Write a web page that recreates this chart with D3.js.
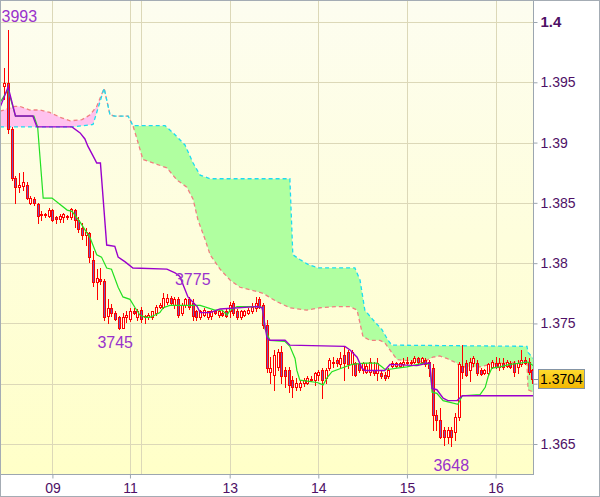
<!DOCTYPE html>
<html><head><meta charset="utf-8">
<script src="https://cdn.jsdelivr.net/npm/d3@7"></script>
<style>html,body{margin:0;padding:0;background:#fff;}svg{display:block;font-family:"Liberation Sans",Arial,sans-serif;}</style>
</head><body><svg id="c" width="600" height="497"></svg>
<script>
// ---- hourly candles (bar index 0..143) ----
const openP=[1.3947,1.3949,1.3911,1.3871,1.3863,1.3864,1.3865,1.3850,1.3853,1.3849,1.3841,1.3840,1.3839,1.3844,1.3838,1.3837,1.3838,1.3839,1.3838,1.3844,1.3836,1.3829,1.3823,1.3825,1.3803,1.3784,1.3787,1.3785,1.3756,1.3763,1.3759,1.3755,1.3746,1.3755,1.3754,1.3760,1.3755,1.3761,1.3755,1.3755,1.3755,1.3759,1.3764,1.3764,1.3768,1.3771,1.3765,1.3770,1.3759,1.3765,1.3770,1.3767,1.3760,1.3755,1.3757,1.3755,1.3756,1.3760,1.3757,1.3759,1.3760,1.3760,1.3767,1.3760,1.3755,1.3757,1.3759,1.3760,1.3763,1.3770,1.3765,1.3749,1.3710,1.3707,1.3714,1.3726,1.3711,1.3711,1.3703,1.3697,1.3697,1.3701,1.3701,1.3704,1.3703,1.3707,1.3711,1.3705,1.3713,1.3718,1.3720,1.3716,1.3724,1.3726,1.3716,1.3717,1.3716,1.3711,1.3710,1.3710,1.3711,1.3709,1.3709,1.3707,1.3706,1.3715,1.3715,1.3715,1.3716,1.3718,1.3718,1.3718,1.3721,1.3718,1.3720,1.3718,1.3713,1.3674,1.3670,1.3662,1.3656,1.3662,1.3660,1.3672,1.3715,1.3717,1.3711,1.3717,1.3717,1.3711,1.3709,1.3709,1.3714,1.3717,1.3714,1.3717,1.3715,1.3717,1.3717,1.3714,1.3716,1.3720,1.3718,1.3711];
const highP=[1.3962,1.3993,1.3913,1.3872,1.3875,1.3876,1.3867,1.3856,1.3855,1.3850,1.3843,1.3842,1.3846,1.3845,1.3839,1.3841,1.3842,1.3840,1.3846,1.3845,1.3838,1.3833,1.3829,1.3826,1.3810,1.3795,1.3796,1.3787,1.3770,1.3766,1.3760,1.3756,1.3759,1.3760,1.3763,1.3763,1.3762,1.3764,1.3757,1.3759,1.3760,1.3765,1.3767,1.3775,1.3774,1.3773,1.3772,1.3772,1.3767,1.3771,1.3772,1.3770,1.3761,1.3761,1.3763,1.3760,1.3761,1.3761,1.3761,1.3761,1.3762,1.3768,1.3769,1.3762,1.3761,1.3761,1.3763,1.3767,1.3772,1.3772,1.3767,1.3753,1.3722,1.3728,1.3729,1.3731,1.3714,1.3714,1.3706,1.3705,1.3703,1.3705,1.3706,1.3706,1.3710,1.3711,1.3713,1.3713,1.3721,1.3722,1.3721,1.3726,1.3731,1.3728,1.3728,1.3718,1.3718,1.3718,1.3717,1.3721,1.3718,1.3721,1.3711,1.3710,1.3713,1.3719,1.3718,1.3718,1.3721,1.3722,1.3720,1.3723,1.3722,1.3722,1.3721,1.3720,1.3716,1.3678,1.3680,1.3664,1.3664,1.3664,1.3676,1.3718,1.3732,1.3720,1.3721,1.3723,1.3720,1.3713,1.3712,1.3717,1.3720,1.3722,1.3721,1.3721,1.3720,1.3719,1.3719,1.3720,1.3728,1.3722,1.3721,1.3712];
const lowP=[1.3936,1.3908,1.3869,1.3850,1.3859,1.3861,1.3853,1.3849,1.3848,1.3833,1.3836,1.3838,1.3838,1.3835,1.3833,1.3834,1.3834,1.3837,1.3837,1.3830,1.3826,1.3820,1.3815,1.3801,1.3781,1.3770,1.3783,1.3753,1.3750,1.3756,1.3753,1.3745,1.3746,1.3751,1.3752,1.3758,1.3753,1.3751,1.3750,1.3754,1.3754,1.3757,1.3763,1.3763,1.3766,1.3765,1.3763,1.3755,1.3757,1.3764,1.3762,1.3753,1.3753,1.3754,1.3756,1.3754,1.3754,1.3758,1.3755,1.3756,1.3755,1.3755,1.3757,1.3754,1.3754,1.3756,1.3758,1.3759,1.3760,1.3763,1.3746,1.3710,1.3701,1.3695,1.3711,1.3701,1.3697,1.3693,1.3689,1.3695,1.3695,1.3698,1.3700,1.3702,1.3699,1.3703,1.3688,1.3701,1.3711,1.3714,1.3715,1.3714,1.3703,1.3713,1.3707,1.3706,1.3710,1.3709,1.3709,1.3707,1.3707,1.3703,1.3705,1.3703,1.3705,1.3714,1.3714,1.3714,1.3715,1.3716,1.3716,1.3717,1.3716,1.3717,1.3715,1.3706,1.3662,1.3662,1.3655,1.3649,1.3651,1.3648,1.3653,1.3670,1.3705,1.3706,1.3702,1.3715,1.3707,1.3707,1.3708,1.3707,1.3713,1.3713,1.3711,1.3712,1.3714,1.3713,1.3706,1.3709,1.3715,1.3716,1.3708,1.3701];
const closeP=[1.3949,1.3911,1.3871,1.3863,1.3865,1.3867,1.3854,1.3854,1.3850,1.3839,1.3840,1.3841,1.3844,1.3836,1.3837,1.3839,1.3841,1.3838,1.3845,1.3836,1.3828,1.3823,1.3826,1.3805,1.3784,1.3788,1.3785,1.3755,1.3763,1.3759,1.3754,1.3746,1.3755,1.3757,1.3760,1.3759,1.3760,1.3754,1.3756,1.3757,1.3760,1.3764,1.3765,1.3771,1.3771,1.3767,1.3770,1.3757,1.3765,1.3770,1.3764,1.3756,1.3755,1.3760,1.3761,1.3760,1.3760,1.3759,1.3760,1.3757,1.3756,1.3765,1.3759,1.3755,1.3760,1.3760,1.3761,1.3764,1.3767,1.3764,1.3749,1.3713,1.3713,1.3724,1.3726,1.3706,1.3706,1.3699,1.3697,1.3701,1.3701,1.3703,1.3705,1.3703,1.3709,1.3710,1.3703,1.3711,1.3720,1.3717,1.3717,1.3721,1.3717,1.3716,1.3726,1.3707,1.3711,1.3717,1.3715,1.3718,1.3709,1.3717,1.3706,1.3705,1.3711,1.3717,1.3717,1.3717,1.3718,1.3717,1.3717,1.3721,1.3718,1.3721,1.3716,1.3713,1.3674,1.3670,1.3656,1.3656,1.3662,1.3656,1.3672,1.3716,1.3710,1.3707,1.3718,1.3721,1.3709,1.3708,1.3711,1.3716,1.3718,1.3714,1.3717,1.3714,1.3718,1.3714,1.3710,1.3717,1.3720,1.3717,1.3710,1.3704];

// ---- Ichimoku lines: [bar, price] ----
const tenkan=[[-1.2,1.3933],[1,1.3944],[3,1.3922],[8,1.3922],[9,1.3913],[10.5,1.3854],[12.9,1.3854],[17,1.3844],[18.3,1.3843],[20.5,1.3834],[23.2,1.3821],[25,1.3807],[26.3,1.3805],[27.7,1.3796],[29,1.3795],[30.8,1.3780],[32.1,1.3772],[34,1.3770],[35.4,1.3763],[36.7,1.3757],[38.1,1.3755],[39.4,1.3755],[40.8,1.3757],[42.1,1.3759],[43,1.3763],[44.8,1.3765],[53,1.3765],[57,1.3761],[58.9,1.3761],[60.3,1.3757],[61.1,1.3761],[63,1.3764],[69.2,1.3764],[69.8,1.3763],[70.6,1.3745],[71.9,1.3736],[76,1.3735],[77.3,1.3731],[78.7,1.3721],[79.2,1.3711],[80,1.3703],[84.7,1.3701],[86.3,1.3699],[87.4,1.3705],[88.7,1.3710],[91.4,1.3713],[94.1,1.3716],[97.6,1.3717],[100.9,1.3717],[102.2,1.3714],[103,1.3712],[104.4,1.3712],[106.3,1.3713],[109,1.3714],[113.3,1.3717],[115.2,1.3716],[115.8,1.3693],[117.1,1.3692],[118.8,1.3686],[122.8,1.3683],[124,1.3690],[128.8,1.3691],[130.2,1.3697],[131,1.3706],[132,1.3713],[134.2,1.3714],[136.9,1.3716],[139.6,1.3717],[141.8,1.3718],[143.2,1.3715]];
const kijun=[[-1.2,1.3929],[1,1.3946],[3,1.3922],[7.7,1.3922],[8.8,1.3913],[18.3,1.3913],[20.5,1.3908],[21.8,1.3903],[22.6,1.3897],[24.5,1.3886],[25,1.3883],[26,1.3883],[27.7,1.3815],[29.9,1.3814],[30.8,1.3805],[32.7,1.3801],[34.8,1.3796],[44,1.3795],[46.2,1.3792],[47.5,1.3789],[49.7,1.3772],[52.2,1.3764],[53,1.3759],[55.7,1.3759],[58.4,1.3762],[68.4,1.3764],[69.8,1.3763],[71.1,1.3738],[71.9,1.3736],[76,1.3736],[77.3,1.3732],[92.2,1.3731],[93.6,1.3728],[95.5,1.3722],[96.8,1.3713],[97.6,1.3711],[103,1.3711],[104.4,1.3716],[111.7,1.3715],[114.4,1.3717],[115.2,1.3717],[115.8,1.3696],[117.1,1.3695],[118.8,1.3688],[120.1,1.3686],[122.6,1.3686],[124,1.3690],[143.2,1.3690]];
const spanA=[[-1.2,1.3913],[18.3,1.3913],[24,1.3915],[25.3,1.3928],[27,1.3945],[28.6,1.3923],[29.9,1.3922],[33.5,1.3922],[34.8,1.3914],[43.5,1.3914],[45.7,1.3908],[48.9,1.3898],[51.1,1.3883],[53,1.3873],[55.7,1.3870],[77.3,1.3870],[78.1,1.3807],[80,1.3803],[82.2,1.3799],[85,1.3796],[94.9,1.3796],[96.3,1.3786],[97.6,1.3761],[99.8,1.3753],[102.2,1.3745],[103.9,1.3736],[104.9,1.3732],[141.5,1.3731],[141.8,1.3726],[143.2,1.3721]];
const spanB=[[-1.2,1.3926],[2.9,1.3930],[4.2,1.3930],[6.9,1.3927],[9.6,1.3927],[12.3,1.3925],[15.1,1.3921],[17.8,1.3918],[21,1.3919],[23.2,1.3923],[25,1.3930],[27,1.3945],[28.6,1.3923],[29.9,1.3922],[33.5,1.3922],[34.8,1.3914],[35.9,1.3903],[37.5,1.3886],[41.3,1.3882],[44,1.3879],[46.7,1.3869],[49.4,1.3863],[51.1,1.3853],[52.4,1.3836],[54.3,1.3820],[55.7,1.3807],[58.4,1.3795],[61.1,1.3786],[63.8,1.3780],[66.5,1.3778],[70,1.3775],[73.8,1.3768],[77.3,1.3763],[81.9,1.3761],[85.5,1.3763],[90.1,1.3764],[93.6,1.3764],[95.5,1.3761],[96.3,1.3750],[97.1,1.3739],[99,1.3736],[101.7,1.3736],[103,1.3734],[104.4,1.3728],[106.3,1.3720],[113.3,1.3718],[116,1.3722],[117.9,1.3723],[119.8,1.3721],[122.6,1.3717],[123.4,1.3714],[128.8,1.3714],[131.5,1.3716],[134.2,1.3717],[140.4,1.3718],[141.5,1.3717],[141.8,1.3695],[143.2,1.3693]];

// ---- axis ticks ----
const yTickValues=[1.365,1.37,1.375,1.38,1.385,1.39,1.395,1.4];
const yTickLabels=["1.365","1.37","1.375","1.38","1.385","1.39","1.395","1.4"];
const dayStartBars=[13,34,37,61,85,109,133];
const dayLabels=["09","11","12","13","14","15","16"];

// ---- swing labels ----
const swingBars=[1,30,51,121];
const swingPrices=[1.3993,1.3745,1.3775,1.3648];
const swingKinds=["high","low","high","low"];
const lastPrice=1.3704;

// ================= drawing =================
const svg=d3.select('#c');
const PL=0.5,PT=0.5,PR=533.5,PB=474.5;
const N=openP.length;
const x=d3.scaleLinear().domain([0,143]).range([4.4,4.4+143*3.693]);
const y=d3.scaleLinear().domain([1.365,1.4]).range([444,22]);

const defs=svg.append('defs');
const bg=defs.append('linearGradient').attr('id','bg').attr('x1',0).attr('y1',0).attr('x2',0).attr('y2',1);
bg.append('stop').attr('offset','0%').attr('stop-color','#fdfdf0');
bg.append('stop').attr('offset','100%').attr('stop-color','#ffffc8');
const gold=defs.append('linearGradient').attr('id','gold').attr('x1',0).attr('y1',0).attr('x2',0).attr('y2',1);
gold.append('stop').attr('offset','0%').attr('stop-color','#ffdc30');
gold.append('stop').attr('offset','100%').attr('stop-color','#f2b600');
defs.append('clipPath').attr('id','plotClip').append('rect')
  .attr('x',PL).attr('y',PT).attr('width',PR-PL).attr('height',PB-PT);

svg.append('rect').attr('x',0).attr('y',0).attr('width',600).attr('height',497).attr('fill','#fff');
svg.append('rect').attr('x',PL).attr('y',PT).attr('width',PR-PL).attr('height',PB-PT).attr('fill','url(#bg)');

const plot=svg.append('g').attr('clip-path','url(#plotClip)');

// grid
const grid=plot.append('g').attr('stroke','#dcd8b8').attr('stroke-width',1);
yTickValues.forEach(v=>{const yy=Math.round(y(v))+0.5;grid.append('line').attr('x1',PL).attr('x2',PR).attr('y1',yy).attr('y2',yy);});
dayStartBars.forEach(b=>{const xx=Math.round(x(b))+0.5;grid.append('line').attr('x1',xx).attr('x2',xx).attr('y1',PT).attr('y2',PB);});

// cloud fills (difference chart)
const toPx=d=>[x(d[0]),y(d[1])];
const aPx=spanA.map(toPx), bPx=spanB.map(toPx);
const lineGen=d3.line();
const bandPath=lineGen(aPx.concat(bPx.slice().reverse()))+'Z';
const aboveA=lineGen(aPx.concat([[aPx[aPx.length-1][0],0],[aPx[0][0],0]]))+'Z';
const belowA=lineGen(aPx.concat([[aPx[aPx.length-1][0],497],[aPx[0][0],497]]))+'Z';
defs.append('clipPath').attr('id','cAbove').append('path').attr('d',aboveA);
defs.append('clipPath').attr('id','cBelow').append('path').attr('d',belowA);
plot.append('g').attr('clip-path','url(#cAbove)').append('path').attr('d',bandPath)
  .attr('fill','#ffc2ee').attr('fill-rule','evenodd');
plot.append('g').attr('clip-path','url(#cBelow)').append('path').attr('d',bandPath)
  .attr('fill','#b0ffa0').attr('fill-rule','evenodd');

// cloud boundary lines
const pLine=d3.line().x(d=>x(d[0])).y(d=>y(d[1]));
plot.append('path').attr('d',pLine(spanB)).attr('fill','none').attr('stroke','#f08080').attr('stroke-width',1.3).attr('stroke-dasharray','4,3');
plot.append('path').attr('d',pLine(spanA)).attr('fill','none').attr('stroke','#1cdcf0').attr('stroke-width',1.3).attr('stroke-dasharray','4,3');

// candles
const cg=plot.append('g');
d3.range(N).forEach(i=>{
  const cx=Math.round(x(i));
  const o=openP[i],h=highP[i],l=lowP[i],c=closeP[i];
  cg.append('line').attr('x1',cx+0.5).attr('x2',cx+0.5).attr('y1',Math.round(y(h))).attr('y2',Math.round(y(l))+1)
    .attr('stroke','#ff0000').attr('stroke-width',1);
  const top=Math.round(y(Math.max(o,c))), bot=Math.round(y(Math.min(o,c)));
  cg.append('rect').attr('x',cx-0.5).attr('y',top+0.5).attr('width',2).attr('height',Math.max(1,bot-top))
    .attr('fill',c>=o?'#fffff2':'#7a50b4').attr('stroke','#ff0000').attr('stroke-width',1);
});

// tenkan / kijun
plot.append('path').attr('d',pLine(tenkan)).attr('fill','none').attr('stroke','#22e022').attr('stroke-width',1.2);
plot.append('path').attr('d',pLine(kijun)).attr('fill','none').attr('stroke','#9a00cc').attr('stroke-width',1.4);

// swing labels
swingBars.forEach((b,i)=>{
  const p=swingPrices[i];
  const txt=String(Math.round(p*10000)%10000);
  const yy=swingKinds[i]==='high'? y(p)-8 : y(p)+(i===3?25:19);
  const t=plot.append('text').attr('x',x(b)).attr('y',yy).attr('text-anchor','middle')
    .attr('font-size',16).attr('fill','#9932cc').text(txt);
  const bb=t.node().getBBox();
  if(bb.x<PL+1){t.attr('text-anchor','start').attr('x',PL+1);}
});

// plot frame
svg.append('rect').attr('x',PL).attr('y',PT).attr('width',PR-PL).attr('height',PB-PT)
  .attr('fill','none').attr('stroke','#9ca6b0');

// last price box geometry (used to hide the tick label it covers)
const ly=y(lastPrice);
const boxTop=Math.round(ly-10)+0.5, boxH=19;

// right axis
const yAxis=d3.axisRight(y).tickValues(yTickValues).tickSize(4).tickPadding(3)
  .tickFormat((d,i)=>yTickLabels[i]);
const ya=svg.append('g').attr('transform',`translate(${PR},0)`).call(yAxis);
ya.select('.domain').remove();
ya.selectAll('.tick line').attr('stroke','#9ca6b0');
ya.selectAll('.tick text').attr('font-size',14).attr('fill','#4e1066').attr('font-family','"Liberation Sans",Arial,sans-serif');
ya.selectAll('.tick text').filter(d=>d===1.4).attr('font-weight','bold').attr('font-size',15);
ya.selectAll('.tick text').filter(d=>{const ty=y(d);return ty>boxTop-6&&ty<boxTop+boxH+6;}).remove();

// bottom axis (skip labels that would overlap the previous one)
const shown=[];let lastX=-100;
dayStartBars.forEach((b,i)=>{if(x(b)-lastX>20){shown.push(i);lastX=x(b);}});
const xAxis=d3.axisBottom(x).tickValues(shown.map(i=>dayStartBars[i])).tickSize(4).tickPadding(5)
  .tickFormat(d=>dayLabels[dayStartBars.indexOf(d)]);
const xa=svg.append('g').attr('transform',`translate(0,${PB})`).call(xAxis);
xa.select('.domain').remove();
xa.selectAll('.tick line').attr('stroke','#9ca6b0');
xa.selectAll('.tick text').attr('font-size',14).attr('fill','#4e1066').attr('font-family','"Liberation Sans",Arial,sans-serif');

// last price box
const lb=svg.append('g');
lb.append('line').attr('x1',PR).attr('x2',538.5).attr('y1',Math.round(ly)+0.5).attr('y2',Math.round(ly)+0.5).attr('stroke','#8494a4');
lb.append('rect').attr('x',538.5).attr('y',boxTop).attr('width',46).attr('height',boxH)
  .attr('fill','url(#gold)').attr('stroke','#8494a4');
lb.append('text').attr('x',561.5).attr('y',ly).attr('dy','0.35em').attr('text-anchor','middle')
  .attr('font-size',14).attr('fill','#000').text(lastPrice.toFixed(4));

// outer border
svg.append('rect').attr('x',0.5).attr('y',0.5).attr('width',599).attr('height',496).attr('fill','none').attr('stroke','#a4acb4');
</script></body></html>
